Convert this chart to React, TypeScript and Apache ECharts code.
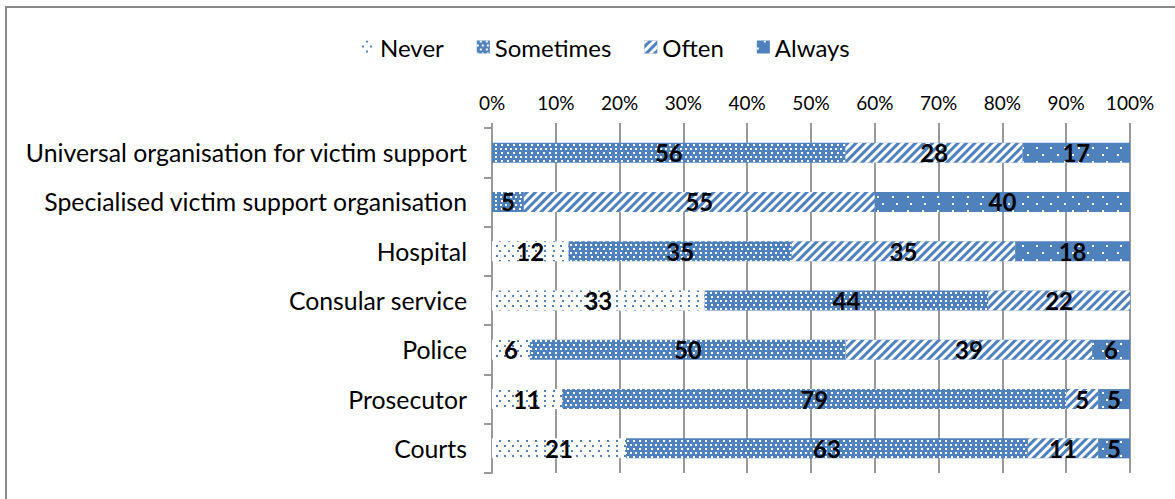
import React, { useEffect, useRef } from "react";
import * as echarts from "echarts";

const categories = [
  "Universal organisation for victim support",
  "Specialised victim support organisation",
  "Hospital",
  "Consular service",
  "Police",
  "Prosecutor",
  "Courts",
];
const seriesNames = ["Never", "Sometimes", "Often", "Always"];
const never = [0, 0, 12, 33, 6, 11, 21];
const sometimes = [56, 5, 35, 44, 50, 79, 63];
const often = [28, 55, 35, 22, 39, 5, 11];
const always = [17, 40, 18, 0, 6, 5, 5];
const xTicks = [0, 10, 20, 30, 40, 50, 60, 70, 80, 90, 100];

const BLUE = "#4F81BD";
const FONT = "Lato, 'Open Sans', sans-serif";

export default function App() {
  const ref = useRef<HTMLDivElement>(null);
  useEffect(() => {
    document.body.style.margin = "0";
    if (!ref.current) return;
    const chart = echarts.init(ref.current, null, { renderer: "svg" });
    const raw = [never, sometimes, often, always];
    const totals = categories.map((_, i) => raw.reduce((s, a) => s + a[i], 0));
    const decals: any[] = [
      {
        symbol: "rect",
        symbolSize: 1,
        color: BLUE,
        dashArrayX: [[1.5, 6], [0, 3.75, 1.5, 2.25]],
        dashArrayY: [1.5, 2.25],
      },
      {
        symbol: "rect",
        symbolSize: 1,
        color: "#ffffff",
        dashArrayX: [[1.3, 3], [0, 2.15, 1.3, 0.85]],
        dashArrayY: [1.3, 1.2],
      },
      {
        symbol: "rect",
        symbolSize: 1,
        color: "#ffffff",
        dashArrayX: [1, 0],
        dashArrayY: [2.5, 2.5],
        rotation: -Math.PI / 4,
      },
      {
        symbol: "rect",
        symbolSize: 1,
        color: "#ffffff",
        dashArrayX: [[1.5, 12], [0, 6.75, 1.5, 5.25]],
        dashArrayY: [1.5, 5],
      },
    ];
    const fills = ["#ffffff", BLUE, BLUE, BLUE];
    const series = seriesNames.map((name, si) => ({
      name,
      type: "bar",
      stack: "total",
      barWidth: 20,
      itemStyle: { color: fills[si], decal: decals[si] },
      label: {
        show: true,
        position: "inside",
        color: "#000",
        fontWeight: "bold",
        fontSize: 24,
        fontFamily: FONT,
        formatter: (p: any) => {
          const v = raw[si][p.dataIndex];
          return v ? String(v) : "";
        },
      },
      data: raw[si].map((v, i) => (v / totals[i]) * 100),
    }));
    chart.setOption({
      animation: false,
      textStyle: { fontFamily: FONT },
      legend: {
        top: 30,
        left: 357,
        itemWidth: 13,
        itemHeight: 13,
        itemGap: 33,
        icon: "rect",
        textStyle: { fontSize: 24, color: "#000", fontFamily: FONT },
        data: seriesNames,
      },
      graphic: [
        {
          type: "rect",
          shape: { x: 6, y: 7, width: 1300, height: 700 },
          style: { fill: "none", stroke: "#8a8a8a", lineWidth: 2 },
          silent: true,
        },
      ],
      grid: { left: 492, right: 45, top: 128, bottom: 26 },
      xAxis: {
        type: "value",
        position: "top",
        min: xTicks[0],
        max: xTicks[xTicks.length - 1],
        interval: 10,
        axisLine: { show: false },
        axisTick: { show: true, length: 5, lineStyle: { color: "#999", width: 2 } },
        axisLabel: {
          formatter: "{value}%",
          fontSize: 19,
          color: "#000",
          fontFamily: FONT,
          margin: 16,
        },
        splitLine: { show: true, lineStyle: { color: "#999", width: 2 } },
      },
      yAxis: {
        type: "category",
        inverse: true,
        data: categories,
        axisLine: { show: true, lineStyle: { color: "#999", width: 2 } },
        axisTick: { show: true, length: 8, lineStyle: { color: "#999", width: 2 } },
        axisLabel: { fontSize: 24.8, color: "#000", fontFamily: FONT, margin: 25 },
      },
      series,
    });
    return () => chart.dispose();
  }, []);
  return <div ref={ref} style={{ width: 1175, height: 499 }} />;
}
